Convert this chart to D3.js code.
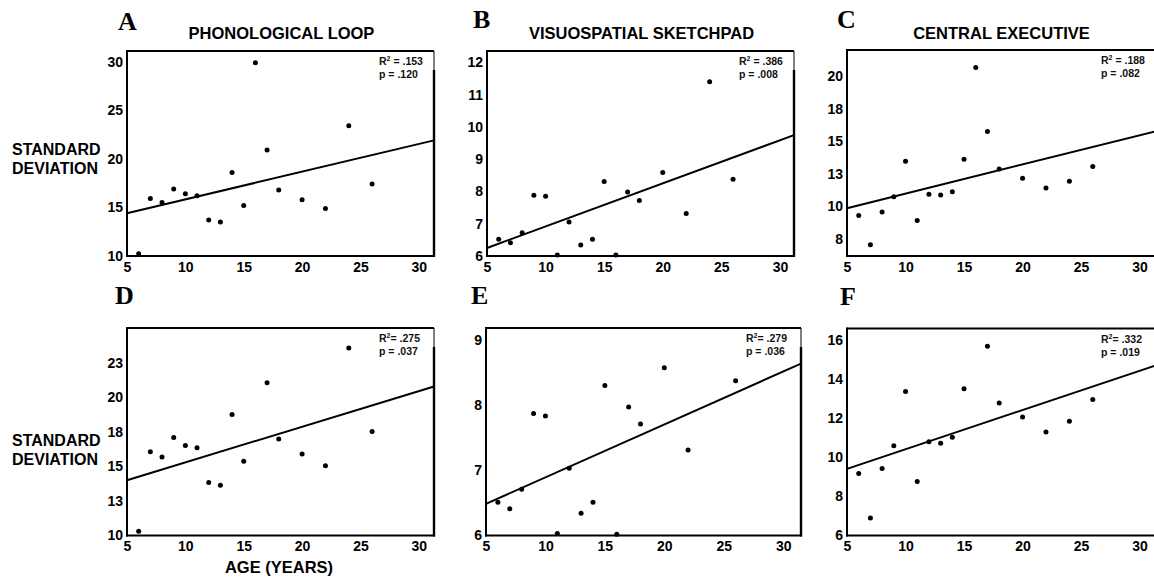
<!DOCTYPE html>
<html>
<head>
<meta charset="utf-8">
<script src="https://cdn.jsdelivr.net/npm/d3@7"></script>
<style>
  body { margin: 0; background: #fff; }
  svg { display: block; }
</style>
</head>
<body>
<svg id="chart" width="1154" height="581"></svg>
<script>
// Ages of the age groups (years)
const agesAll  = [6, 7, 8, 9, 10, 11, 12, 13, 14, 15, 16, 17, 18, 20, 22, 24, 26];
const agesNo16 = [6, 7, 8, 9, 10, 11, 12, 13, 14, 15, 17, 18, 20, 22, 24, 26];
const agesNo24 = [6, 7, 8, 9, 10, 11, 12, 13, 14, 15, 16, 17, 18, 20, 22, 26];

// Standard deviation per age group, all groups
const sdPhonological = [10.24, 15.92, 15.5, 16.9, 16.4, 16.2, 13.7, 13.5, 18.6, 15.2, 29.9, 20.9, 16.8, 15.8, 14.9, 23.4, 17.4];
const sdVisuospatial = [6.52, 6.41, 6.72, 7.88, 7.85, 6.03, 7.05, 6.34, 6.52, 8.31, 6.03, 7.98, 7.72, 8.59, 7.32, 11.40, 8.38];
const sdExecutive    = [9.30, 7.07, 9.58, 10.75, 13.46, 8.92, 10.93, 10.88, 11.13, 13.62, 20.65, 15.75, 12.88, 12.17, 11.41, 11.94, 13.06];

// Standard deviation per age group, outlying group left out
const sdPhonologicalTrim = [10.31, 16.06, 15.68, 17.09, 16.51, 16.35, 13.83, 13.64, 18.74, 15.36, 21.04, 16.97, 15.89, 15.05, 23.55, 17.52];
const sdVisuospatialTrim = [6.51, 6.41, 6.71, 7.87, 7.83, 6.03, 7.03, 6.34, 6.51, 8.30, 6.02, 7.97, 7.71, 8.57, 7.31, 8.37];
const sdExecutiveTrim    = [9.17, 6.89, 9.43, 10.60, 13.38, 8.76, 10.80, 10.73, 11.03, 13.51, 15.69, 12.79, 12.07, 11.30, 11.85, 12.96];

// Axis ticks
const xTicks = [5, 10, 15, 20, 25, 30];
const yTicksA = [10, 15, 20, 25, 30];
const yTicksB = [6, 7, 8, 9, 10, 11, 12];
const yTicksC = [7.5, 10, 12.5, 15, 17.5, 20];
const yTickLabelsC = ["8", "10", "13", "15", "18", "20"];
const yTicksD = [10, 12.5, 15, 17.5, 20, 22.5];
const yTickLabelsD = ["10", "13", "15", "18", "20", "23"];
const yTicksE = [6, 7, 8, 9];
const yTicksF = [6, 8, 10, 12, 14, 16];

// Linear fits: sd = intercept + slope * age
const fitIntercept = [12.98, 5.58, 8.75, 12.71, 6.08, 8.41];
const fitSlope     = [0.285, 0.1335, 0.2237, 0.2576, 0.0811, 0.2008];

// Fit statistics
const r2Text = [" = .153", " = .386", " = .188", "= .275", "= .279", "= .332"];
const pText  = ["p = .120", "p = .008", "p = .082", "p = .037", "p = .036", "p = .019"];

const panelLetters = ["A", "B", "C", "D", "E", "F"];
const columnTitles = ["PHONOLOGICAL LOOP", "VISUOSPATIAL SKETCHPAD", "CENTRAL EXECUTIVE"];

// Panel frames and scale domains
const panels = [
  { ages: agesAll,  sd: sdPhonological,     box: [127, 434, 51, 256],    xDom: [5, 31.3], yDom: [10, 31.1], ticks: yTicksA, labels: null,        letterPos: [118, 30] },
  { ages: agesAll,  sd: sdVisuospatial,     box: [487, 794, 51, 256],    xDom: [5, 31.2], yDom: [6, 12.35], ticks: yTicksB, labels: null,        letterPos: [473, 28] },
  { ages: agesAll,  sd: sdExecutive,        box: [847, 1156, 50, 256],   xDom: [5, 31.4], yDom: [6.2, 22],  ticks: yTicksC, labels: yTickLabelsC, letterPos: [837, 28] },
  { ages: agesNo16, sd: sdPhonologicalTrim, box: [127, 434, 328, 535.5], xDom: [5, 31.3], yDom: [10, 25],   ticks: yTicksD, labels: yTickLabelsD, letterPos: [115, 304] },
  { ages: agesNo24, sd: sdVisuospatialTrim, box: [486, 801, 328, 535.5], xDom: [5, 31.5], yDom: [6, 9.18],  ticks: yTicksE, labels: null,        letterPos: [471, 304] },
  { ages: agesNo16, sd: sdExecutiveTrim,    box: [847, 1156, 328.5, 535.5], xDom: [5, 31.4], yDom: [6, 16.6], ticks: yTicksF, labels: null,     letterPos: [840, 305] }
];

const SANS = "'Liberation Sans', Arial, Helvetica, sans-serif";
const SERIF = "'Liberation Serif', 'Times New Roman', serif";

const svg = d3.select("#chart");

panels.forEach((p, i) => {
  const [x0, x1, y0, y1] = p.box;
  const x = d3.scaleLinear().domain(p.xDom).range([x0, x1]);
  const y = d3.scaleLinear().domain(p.yDom).range([y1, y0]);
  const g = svg.append("g");

  // frame: the top edge of the right side is a hairline
  const frame = g.append("g").attr("stroke", "#000").attr("fill", "none");
  frame.append("line").attr("x1", x0).attr("x2", x1).attr("y1", y0).attr("y2", y0).attr("stroke-width", 2);
  frame.append("line").attr("x1", x0).attr("x2", x0).attr("y1", y0 - 1).attr("y2", y1 + 1).attr("stroke-width", 2);
  frame.append("line").attr("x1", x0 - 1).attr("x2", x1 + 1).attr("y1", y1).attr("y2", y1).attr("stroke-width", 2);
  frame.append("line").attr("x1", x1).attr("x2", x1).attr("y1", y0).attr("y2", y0 + 19).attr("stroke-width", 1);
  frame.append("line").attr("x1", x1).attr("x2", x1).attr("y1", y0 + 19).attr("y2", y1 + 1).attr("stroke-width", 2.4);

  // y tick labels
  const yAxis = d3.axisLeft(y)
    .tickValues(p.ticks)
    .tickSize(0)
    .tickPadding(4)
    .tickFormat((d, k) => p.labels ? p.labels[k] : d3.format("d")(d));
  const ya = g.append("g").attr("transform", `translate(${x0},0)`).call(yAxis);
  ya.select(".domain").remove();
  ya.selectAll("text")
    .attr("font-family", SANS).attr("font-size", 14).attr("font-weight", "bold").attr("fill", "#000");

  // x tick labels
  const xAxis = d3.axisBottom(x).tickValues(xTicks).tickSize(0).tickPadding(6).tickFormat(d3.format("d"));
  const xa = g.append("g").attr("transform", `translate(0,${y1})`).call(xAxis);
  xa.select(".domain").remove();
  xa.selectAll("text")
    .attr("font-family", SANS).attr("font-size", 14).attr("font-weight", "bold").attr("fill", "#000");

  // data points
  g.append("g").selectAll("circle")
    .data(p.ages.map((a, k) => ({ age: a, sd: p.sd[k] })))
    .join("circle")
    .attr("cx", d => x(d.age))
    .attr("cy", d => y(d.sd))
    .attr("r", 2.5)
    .attr("fill", "#000");

  // linear fit across the age range
  const fit = a => fitIntercept[i] + fitSlope[i] * a;
  const xs = [p.xDom[0], p.xDom[1]];
  g.append("path")
    .attr("d", d3.line().x(a => x(a)).y(a => y(fit(a)))(xs))
    .attr("stroke", "#000").attr("stroke-width", 2).attr("fill", "none");

  // fit statistics
  const st = g.append("g")
    .attr("font-family", SANS).attr("font-size", 10.5).attr("font-weight", "bold").attr("fill", "#111");
  const tx = x1 - 55;
  const t1 = st.append("text").attr("x", tx).attr("y", y0 + 14);
  t1.append("tspan").text("R");
  t1.append("tspan").attr("font-size", 7).attr("dy", -4).text("2");
  t1.append("tspan").attr("dy", 4).text(r2Text[i]);
  st.append("text").attr("x", tx).attr("y", y0 + 27).text(pText[i]);

  // panel letter
  svg.append("text")
    .attr("x", p.letterPos[0]).attr("y", p.letterPos[1])
    .attr("font-family", SERIF).attr("font-size", 26).attr("font-weight", "bold")
    .text(panelLetters[i]);

  // column title
  if (i < 3) {
    svg.append("text")
      .attr("x", (x0 + Math.min(x1, 1154)) / 2 + 1).attr("y", 39)
      .attr("text-anchor", "middle")
      .attr("font-family", SANS).attr("font-size", 16.5).attr("font-weight", "bold")
      .text(columnTitles[i]);
  }
});

// shared axis titles
[[155, 173.5], [446, 465]].forEach(([b1, b2]) => {
  const t = svg.append("g").attr("font-family", SANS).attr("font-size", 16).attr("font-weight", "bold");
  t.append("text").attr("x", 12).attr("y", b1).text("STANDARD");
  t.append("text").attr("x", 12).attr("y", b2).text("DEVIATION");
});

svg.append("text")
  .attr("x", 279).attr("y", 573)
  .attr("text-anchor", "middle")
  .attr("font-family", SANS).attr("font-size", 16.5).attr("font-weight", "bold")
  .text("AGE (YEARS)");
</script>
</body>
</html>
